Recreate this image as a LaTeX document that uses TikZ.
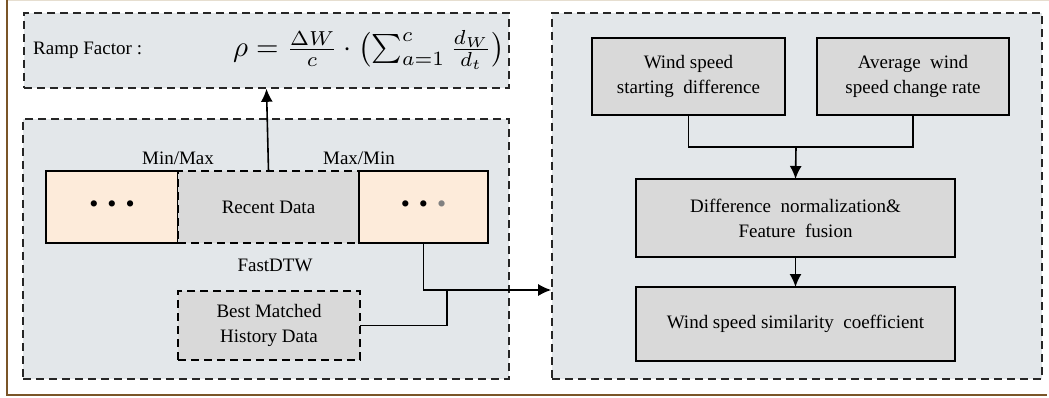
\documentclass[tikz,border=0pt]{standalone}
\usepackage{amsmath}
\usepackage{fontspec}
\setmainfont{Liberation Serif}
\usepackage{xcolor}
\usetikzlibrary{arrows, arrows.meta, positioning, backgrounds}

\definecolor{panelbg}{HTML}{E3E7EA}
\definecolor{boxgray}{HTML}{D9D9D9}
\definecolor{peach}{HTML}{FDEBDA}
\definecolor{framebrown}{HTML}{7A5528}
\definecolor{framebeige}{HTML}{E6DED0}

\begin{document}
\begin{tikzpicture}[
    x=1pt, y=-1pt,
    panel/.style={rectangle, draw=black!85, fill=panelbg, dash pattern=on 8pt off 5pt, line width=1.6pt, inner sep=0pt},
    stepbox/.style={rectangle, draw=black, fill=boxgray, line width=1.6pt, align=center, font=\fontsize{19}{25}\selectfont, outer sep=0pt},
    seqbox/.style={rectangle, draw=black, fill=peach, line width=1.6pt, minimum height=72pt, outer sep=0pt, font=\fontsize{26}{26}\selectfont},
    dashbox/.style={stepbox, dash pattern=on 8pt off 5pt},
    labeltext/.style={font=\fontsize{19}{25}\selectfont, inner sep=1pt, align=center},
    arrow/.style={line width=1.6pt, -{Latex[length=13pt, width=12pt]}, black}
]
    \useasboundingbox (0,0) rectangle (1049,398);

    % Frame
    \draw [framebeige, line width=1.5pt] (7,0.5) -- (1049,0.5);
    \draw [framebrown, line width=2pt] (7,0) -- (7,394.5) -- (1047,394.5);

    % Panels
    \node (fpanel) [panel, minimum width=485pt, minimum height=75pt] at (266.5,50.5) {};
    \node (mpanel) [panel, minimum width=486pt, minimum height=260pt] at (266,249) {};
    \node (rpanel) [panel, minimum width=490pt, minimum height=366pt] at (797,196) {};

    % Ramp factor
    \node (ramp) [labeltext, anchor=west] at (32,50) {Ramp Factor\hspace{5pt}:};
    \node (rho) [inner sep=0pt] at (369,50)
        {\resizebox{272pt}{!}{$\rho = \frac{\Delta W}{c}\cdot\bigl(\sum_{a=1}^{c}\frac{d_W}{d_t}\bigr)$}};

    % Sequence
    \node (lseq) [seqbox, minimum width=132pt] at (112,207) {\textbullet\hspace{9pt}\textbullet\hspace{9pt}\textbullet};
    \node (recent) [dashbox, right=0pt of lseq, minimum width=181pt, minimum height=72pt] {Recent Data};
    \node (rseq) [seqbox, right=0pt of recent, minimum width=129pt] {\textbullet\hspace{9pt}\textbullet\hspace{9pt}\textcolor{gray}{\textbullet}};
    \node (minmax) [labeltext, above=5pt of lseq.north east] {Min/Max};
    \node (maxmin) [labeltext, above=5pt of rseq.north west] {Max/Min};
    \node (dtw) [labeltext] at (275,265) {FastDTW};
    \node (best) [dashbox, minimum width=182pt, minimum height=69pt] at (269,325.5) {Best Matched\\History Data};

    % Similarity
    \node (start) [stepbox, minimum width=193pt, minimum height=77pt] at (688.5,76.5) {Wind speed\\starting\ \ difference};
    \node (rate) [stepbox, minimum width=192pt, minimum height=77pt] at (913,76.5) {Average\ \ wind\\speed change rate};
    \node (fuse) [stepbox, minimum width=319pt, minimum height=78pt] at (795.5,218) {Difference\ \ normalization\&\\Feature\ \ fusion};
    \node (coef) [stepbox, below=30pt of fuse, minimum width=319pt, minimum height=74pt] {Wind speed similarity\ \ coefficient};

    % Arrows
    \coordinate (join) at (447,290);
    \coordinate (merge) at (796,147);
    \draw [arrow] (recent.north) -- (fpanel.south);
    \draw [line width=1.6pt] (rseq.south) |- (join);
    \draw [line width=1.6pt] (best.east) -| (join);
    \draw [arrow] (join) -- (join -| rpanel.west);
    \draw [line width=1.6pt] (start.south) |- (merge) -| (rate.south);
    \draw [arrow] (merge) -- (fuse.north);
    \draw [arrow] (fuse.south) -- (coef.north);

\end{tikzpicture}
\end{document}
